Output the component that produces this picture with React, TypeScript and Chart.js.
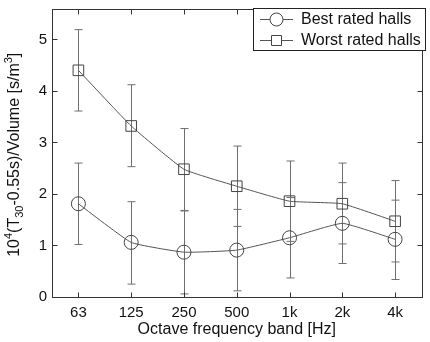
import React, { useEffect, useRef } from "react";
import { Chart, registerables } from "chart.js";

Chart.register(...registerables);

const bands = ["63", "125", "250", "500", "1k", "2k", "4k"];
const bestMean = [1.81, 1.06, 0.87, 0.91, 1.15, 1.43, 1.12];
const bestLow = [1.02, 0.25, 0.06, 0.12, 0.37, 0.65, 0.34];
const bestHigh = [2.6, 1.85, 1.67, 1.7, 1.93, 2.22, 1.88];
const worstMean = [4.4, 3.32, 2.48, 2.15, 1.86, 1.81, 1.47];
const worstLow = [3.61, 2.53, 1.68, 1.37, 1.08, 1.03, 0.68];
const worstHigh = [5.19, 4.12, 3.27, 2.93, 2.64, 2.6, 2.26];
const yTicks = [0, 1, 2, 3, 4, 5];
const seriesNames = ["Best rated halls", "Worst rated halls"];
// y-axis title pieces: [text, kind] where kind 0 = normal, 1 = superscript, -1 = subscript
const yTitleRuns: [string, number][] = [
  ["10", 0],
  ["4", 1],
  ["(T", 0],
  ["30", -1],
  ["-0.55s)/Volume [s/m", 0],
  ["3", 1],
  ["]", 0],
];

const FONT = "'Liberation Sans', Arial, Helvetica, sans-serif";
const AXIS = "#333";
const LINE = "#555";
const ERR = "#6f6f6f";

const lows = [bestLow, worstLow];
const highs = [bestHigh, worstHigh];

const decor = {
  id: "decor",
  beforeDatasetsDraw(chart: any) {
    const ctx = chart.ctx;
    const x = chart.scales.x;
    const y = chart.scales.y;
    ctx.save();
    ctx.strokeStyle = ERR;
    ctx.lineWidth = 1;
    for (let d = 0; d < 2; d++) {
      for (let i = 0; i < bands.length; i++) {
        const px = Math.round(x.getPixelForValue(i)) + 0.5;
        const y1 = y.getPixelForValue(lows[d][i]);
        const y2 = y.getPixelForValue(highs[d][i]);
        ctx.beginPath();
        ctx.moveTo(px, y1);
        ctx.lineTo(px, y2);
        ctx.moveTo(px - 4, y1);
        ctx.lineTo(px + 4, y1);
        ctx.moveTo(px - 4, y2);
        ctx.lineTo(px + 4, y2);
        ctx.stroke();
      }
    }
    ctx.restore();
  },
  afterDraw(chart: any) {
    const ctx = chart.ctx;
    const a = chart.chartArea;
    const x = chart.scales.x;
    const y = chart.scales.y;
    const L = Math.round(a.left) + 0.5;
    const R = Math.round(a.right) + 0.5;
    const T = Math.round(a.top) + 0.5;
    const B = Math.round(a.bottom) + 0.5;
    ctx.save();
    ctx.strokeStyle = AXIS;
    ctx.lineWidth = 1;
    ctx.strokeRect(L, T, R - L, B - T);
    const tl = 5;
    ctx.beginPath();
    for (let i = 0; i < bands.length; i++) {
      const px = Math.round(x.getPixelForValue(i)) + 0.5;
      ctx.moveTo(px, B);
      ctx.lineTo(px, B - tl);
      ctx.moveTo(px, T);
      ctx.lineTo(px, T + tl);
    }
    for (const v of yTicks) {
      const py = Math.round(y.getPixelForValue(v)) + 0.5;
      ctx.moveTo(L, py);
      ctx.lineTo(L + tl, py);
      ctx.moveTo(R, py);
      ctx.lineTo(R - tl, py);
    }
    ctx.stroke();

    // y-axis title with super/subscripts
    const big = `16px ${FONT}`;
    const small = `11px ${FONT}`;
    let total = 0;
    for (const [t, k] of yTitleRuns) {
      ctx.font = k === 0 ? big : small;
      total += ctx.measureText(t).width;
    }
    ctx.translate(15, (a.top + a.bottom) / 2 + 2);
    ctx.rotate(-Math.PI / 2);
    ctx.fillStyle = "#111";
    ctx.textBaseline = "middle";
    ctx.textAlign = "left";
    let cx = -total / 2;
    for (const [t, k] of yTitleRuns) {
      ctx.font = k === 0 ? big : small;
      const off = k === 1 ? -6 : k === -1 ? 5 : 0;
      ctx.fillText(t, cx, off);
      cx += ctx.measureText(t).width;
    }
    ctx.setTransform(1, 0, 0, 1, 0, 0);

    // legend
    const bx = 253.5, by = 8.5, bw = 172, bh = 42;
    ctx.fillStyle = "#fff";
    ctx.fillRect(bx, by, bw, bh);
    ctx.strokeStyle = "#222";
    ctx.strokeRect(bx, by, bw, bh);
    const rows = [19, 40];
    ctx.font = `16px ${FONT}`;
    ctx.textBaseline = "middle";
    ctx.textAlign = "left";
    for (let d = 0; d < 2; d++) {
      const ry = rows[d] + 0.5;
      ctx.strokeStyle = LINE;
      ctx.beginPath();
      ctx.moveTo(260, ry);
      ctx.lineTo(293, ry);
      ctx.stroke();
      ctx.fillStyle = "#fff";
      ctx.strokeStyle = "#444";
      ctx.beginPath();
      if (d === 0) {
        ctx.arc(276.5, ry, 6.5, 0, Math.PI * 2);
      } else {
        ctx.rect(271.5, ry - 5, 10, 10);
      }
      ctx.fill();
      ctx.stroke();
      ctx.fillStyle = "#111";
      ctx.fillText(seriesNames[d], 301, rows[d] + 1);
    }
    ctx.restore();
  },
};

export default function App() {
  const ref = useRef<HTMLCanvasElement>(null);
  useEffect(() => {
    document.body.style.margin = "0";
    const chart = new Chart(ref.current as HTMLCanvasElement, {
      type: "line",
      data: {
        labels: bands,
        datasets: [
          {
            label: seriesNames[0],
            data: bestMean,
            borderColor: LINE,
            borderWidth: 1,
            pointStyle: "circle",
            pointRadius: 7,
            pointBorderColor: "#444",
            pointBackgroundColor: "rgba(0,0,0,0)",
            pointBorderWidth: 1,
            tension: 0.12,
          },
          {
            label: seriesNames[1],
            data: worstMean,
            borderColor: LINE,
            borderWidth: 1,
            pointStyle: "rect",
            pointRadius: 7.5,
            pointBorderColor: "#444",
            pointBackgroundColor: "rgba(0,0,0,0)",
            pointBorderWidth: 1,
            tension: 0.12,
          },
        ],
      },
      options: {
        animation: false,
        responsive: false,
        layout: { padding: { top: 2, right: 3, left: 0, bottom: 0 } },
        plugins: { legend: { display: false }, tooltip: { enabled: false } },
        scales: {
          x: {
            type: "category",
            offset: true,
            grid: { display: false, drawTicks: false },
            border: { display: false },
            ticks: { color: "#111", font: { family: FONT, size: 15 }, padding: 7, maxRotation: 0 },
            title: {
              display: true,
              text: "Octave frequency band [Hz]",
              color: "#111",
              font: { family: FONT, size: 16 },
              padding: { top: 0, bottom: 3 },
            },
            afterFit: (s: any) => {
              s.height = 45;
              s.paddingLeft = 0;
              s.paddingRight = 0;
            },
          },
          y: {
            type: "linear",
            min: 0,
            max: 5.6,
            grid: { display: false, drawTicks: false },
            border: { display: false },
            ticks: { color: "#111", font: { family: FONT, size: 15 }, padding: 5 },
            afterBuildTicks: (s: any) => {
              s.ticks = yTicks.map((v) => ({ value: v }));
            },
            title: { display: false },
            afterFit: (s: any) => {
              s.width = 52;
              s.paddingTop = 0;
              s.paddingBottom = 0;
            },
          },
        },
      },
      plugins: [decor],
    });
    return () => chart.destroy();
  }, []);
  return <canvas ref={ref} width={430} height={342} style={{ display: "block" }} />;
}
